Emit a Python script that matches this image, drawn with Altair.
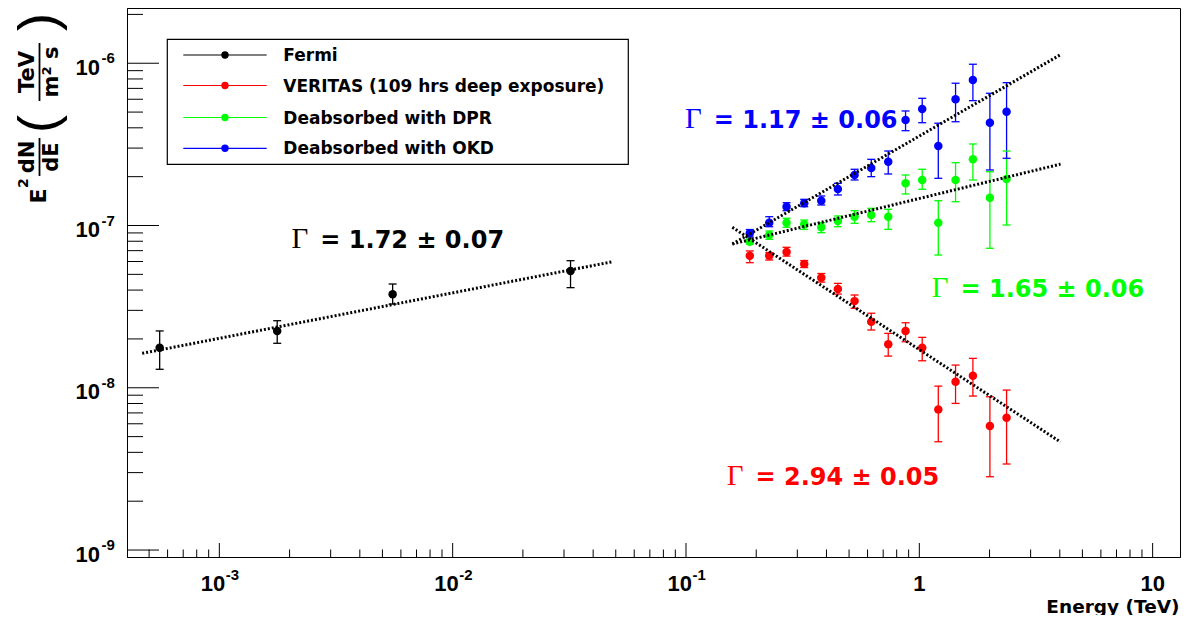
import altair as alt
import pandas as pd

# ---------------- data ----------------
series_names = ["Fermi", "VERITAS (109 hrs deep exposure)", "Deabsorbed with DPR", "Deabsorbed with OKD"]
series_colors = ["#000000", "#ff0000", "#00ff00", "#0000ff"]

fermi_E = [5.55e-4, 1.77e-3, 5.53e-3, 0.0320]
fermi_F = [1.765e-8, 2.24e-8, 3.77e-8, 5.24e-8]
fermi_hi = [2.24e-8, 2.59e-8, 4.36e-8, 6.07e-8]
fermi_lo = [1.30e-8, 1.88e-8, 3.28e-8, 4.14e-8]

vhe_E = [0.1877, 0.2274, 0.2698, 0.3212, 0.3800, 0.4476, 0.5279, 0.6223,
         0.7359, 0.873, 1.029, 1.206, 1.430, 1.697, 2.007, 2.366]

veritas_F = [6.52e-8, 6.52e-8, 6.86e-8, 5.79e-8, 4.77e-8, 4.06e-8, 3.42e-8, 2.55e-8,
             1.852e-8, 2.237e-8, 1.765e-8, 7.36e-9, 1.089e-8, 1.186e-8, 5.81e-9, 6.53e-9]
veritas_hi = [6.97e-8, 6.80e-8, 7.34e-8, 6.08e-8, 5.06e-8, 4.40e-8, 3.73e-8, 2.88e-8,
              2.164e-8, 2.516e-8, 2.045e-8, 1.024e-8, 1.380e-8, 1.518e-8, 8.80e-9, 9.68e-9]
veritas_lo = [5.90e-8, 6.13e-8, 6.48e-8, 5.51e-8, 4.48e-8, 3.78e-8, 3.09e-8, 2.27e-8,
              1.568e-8, 1.921e-8, 1.467e-8, 4.65e-9, 8.01e-9, 8.89e-9, 2.83e-9, 3.39e-9]

dpr_F = [7.95e-8, 8.74e-8, 1.041e-7, 1.017e-7, 9.75e-8, 1.066e-7, 1.133e-7, 1.161e-7,
         1.133e-7, 1.820e-7, 1.908e-7, 1.041e-7, 1.908e-7, 2.558e-7, 1.484e-7, 1.935e-7]
dpr_hi = [8.22e-8, 9.25e-8, 1.108e-7, 1.081e-7, 1.041e-7, 1.145e-7, 1.234e-7, 1.276e-7,
          1.259e-7, 2.048e-7, 2.221e-7, 1.422e-7, 2.439e-7, 3.18e-7, 2.146e-7, 2.878e-7]
dpr_lo = [7.69e-8, 8.22e-8, 9.75e-8, 9.47e-8, 9.03e-8, 9.83e-8, 1.032e-7, 1.055e-7,
          9.47e-8, 1.564e-7, 1.672e-7, 6.58e-8, 1.402e-7, 1.908e-7, 7.24e-8, 1.007e-7]

okd_F = [8.95e-8, 1.04e-7, 1.306e-7, 1.371e-7, 1.422e-7, 1.679e-7, 2.048e-7, 2.262e-7,
         2.473e-7, 4.47e-7, 5.23e-7, 3.09e-7, 6.0e-7, 7.89e-7, 4.30e-7, 5.03e-7]
okd_hi = [9.447e-8, 1.133e-7, 1.382e-7, 1.450e-7, 1.520e-7, 1.820e-7, 2.221e-7, 2.558e-7,
          2.878e-7, 5.08e-7, 6.08e-7, 4.27e-7, 7.53e-7, 9.86e-7, 6.53e-7, 7.59e-7]
okd_lo = [8.49e-8, 9.83e-8, 1.234e-7, 1.306e-7, 1.338e-7, 1.542e-7, 1.908e-7, 2.000e-7,
          2.078e-7, 3.84e-7, 4.30e-7, 1.954e-7, 4.36e-7, 5.88e-7, 2.199e-7, 2.596e-7]

# power-law fits (end points)
fit_names = ["Fermi fit", "OKD fit", "DPR fit", "VERITAS fit"]
fit_E0 = [4.67e-4, 0.158, 0.158, 0.158]
fit_E1 = [0.0484, 4.03, 4.03, 4.03]
fit_F0 = [1.63e-8, 7.69e-8, 7.69e-8, 9.75e-8]
fit_F1 = [5.98e-8, 1.13e-6, 2.39e-7, 4.63e-9]

# index annotations
label_series = [series_names[0], series_names[3], series_names[2], series_names[1]]
label_text = ["= 1.72 \u00b1 0.07", "= 1.17 \u00b1 0.06", "= 1.65 \u00b1 0.06", "= 2.94 \u00b1 0.05"]
label_E = [2.71e-3, 0.1316, 1.502, 0.1986]
label_F = [7.30e-8, 3.974e-7, 3.64e-8, 2.513e-9]

# axes
x_domain = [4.02e-4, 13.1]
y_domain = [9.06e-10, 2.19e-6]
x_major = [1e-3, 1e-2, 1e-1, 1, 10]
x_label_base = ["10", "10", "10", "1", "10"]
x_label_exp = ["-3", "-2", "-1", "", ""]
y_major = [1e-9, 1e-8, 1e-7, 1e-6]
y_label_base = ["10", "10", "10", "10"]
y_label_exp = ["-9", "-8", "-7", "-6"]
minor_mult = [2, 3, 4, 5, 6, 7, 8, 9]
x_minor = [m * 10.0 ** e for e in range(-4, 1) for m in minor_mult
           if x_domain[0] <= m * 10.0 ** e <= x_domain[1]]
y_minor = [m * 10.0 ** e for e in range(-10, -5) for m in minor_mult
           if y_domain[0] <= m * 10.0 ** e <= y_domain[1]]

# ---------------- tables ----------------
rows = []
for name, Es, Fs, los, his in [
    (series_names[0], fermi_E, fermi_F, fermi_lo, fermi_hi),
    (series_names[1], vhe_E, veritas_F, veritas_lo, veritas_hi),
    (series_names[2], vhe_E, dpr_F, dpr_lo, dpr_hi),
    (series_names[3], vhe_E, okd_F, okd_lo, okd_hi),
]:
    for E, F, lo, hi in zip(Es, Fs, los, his):
        rows.append({"series": name, "E": E, "F": F, "lo": lo, "hi": hi})
pts = pd.DataFrame(rows)

fit_rows = []
for n, e0, e1, f0, f1 in zip(fit_names, fit_E0, fit_E1, fit_F0, fit_F1):
    fit_rows.append({"fit": n, "E": e0, "F": f0})
    fit_rows.append({"fit": n, "E": e1, "F": f1})
fits = pd.DataFrame(fit_rows)

labels = pd.DataFrame({"series": label_series, "text": label_text, "E": label_E, "F": label_F})
xlab = pd.DataFrame({"v": x_major, "base": x_label_base, "exp": x_label_exp})
ylab = pd.DataFrame({"v": y_major, "base": y_label_base, "exp": y_label_exp})

# ---------------- layout ----------------
W, H = 1053, 549
OX, OY = 127, 8  # page position of plot origin
SANS = "DejaVu Sans"
LAB = "Liberation Sans"

xscale = alt.Scale(type="log", domain=x_domain, nice=False)
yscale = alt.Scale(type="log", domain=y_domain, nice=False)

xaxis = alt.Axis(values=x_major, labels=False, title="Energy (TeV)",
                 titleX=W - 1, titleY=55, titleAlign="right", titleAnchor="end",
                 titleBaseline="alphabetic", titleFont=SANS, titleFontSize=18.5,
                 titleFontWeight="bold", titleColor="black",
                 ticks=False, grid=False, domainColor="black")
yaxis = alt.Axis(values=y_major, labels=False, title=None,
                 ticks=False, grid=False, domainColor="black")


def X(f):
    return alt.X(f + ":Q", scale=xscale, axis=xaxis)


def Y(f):
    return alt.Y(f + ":Q", scale=yscale, axis=yaxis)


color = alt.Color("series:N", scale=alt.Scale(domain=series_names, range=series_colors), legend=None)
dummy = alt.Data(values=[{"a": 1}])

layers = []

# inward ticks
layers.append(alt.Chart(pd.DataFrame({"v": x_major})).mark_rule(color="black", strokeWidth=1)
              .encode(x=X("v"), y=alt.value(H), y2=alt.value(H - 14)))
layers.append(alt.Chart(pd.DataFrame({"v": x_minor})).mark_rule(color="black", strokeWidth=1)
              .encode(x=X("v"), y=alt.value(H), y2=alt.value(H - 7.5)))
layers.append(alt.Chart(pd.DataFrame({"v": y_major})).mark_rule(color="black", strokeWidth=1)
              .encode(y=Y("v"), x=alt.value(0), x2=alt.value(32)))
layers.append(alt.Chart(pd.DataFrame({"v": y_minor})).mark_rule(color="black", strokeWidth=1)
              .encode(y=Y("v"), x=alt.value(0), x2=alt.value(16)))

# tick labels (base + raised exponent)
xl = alt.Chart(xlab)
layers.append(xl.transform_filter("datum.exp != ''")
              .mark_text(align="right", baseline="alphabetic", font=LAB, fontWeight="bold",
                         fontSize=22, dx=6, color="black")
              .encode(x=X("v"), y=alt.value(H + 34), text="base:N"))
layers.append(xl.transform_filter("datum.exp != ''")
              .mark_text(align="left", baseline="alphabetic", font=LAB, fontWeight="bold",
                         fontSize=15, dx=6.5, color="black")
              .encode(x=X("v"), y=alt.value(H + 22.5), text="exp:N"))
layers.append(xl.transform_filter("datum.exp == ''")
              .mark_text(align="center", baseline="alphabetic", font=LAB, fontWeight="bold",
                         fontSize=22, color="black")
              .encode(x=X("v"), y=alt.value(H + 34), text="base:N"))
yl = alt.Chart(ylab)
layers.append(yl.mark_text(align="right", baseline="alphabetic", font=LAB, fontWeight="bold",
                           fontSize=22, dy=11.5, color="black")
              .encode(y=Y("v"), x=alt.value(100 - OX), text="base:N"))
layers.append(yl.mark_text(align="left", baseline="alphabetic", font=LAB, fontWeight="bold",
                           fontSize=15, dy=0, color="black")
              .encode(y=Y("v"), x=alt.value(101.5 - OX), text="exp:N"))

# error bars + caps
base = alt.Chart(pts)
layers.append(base.mark_rule(strokeWidth=1.3).encode(x=X("E"), y=Y("lo"), y2="hi:Q", color=color))
cap = "M-1,0L1,0"
layers.append(base.mark_point(shape=cap, size=64, filled=False, strokeWidth=1.3, opacity=1)
              .encode(x=X("E"), y=Y("lo"), color=color))
layers.append(base.mark_point(shape=cap, size=64, filled=False, strokeWidth=1.3, opacity=1)
              .encode(x=X("E"), y=Y("hi"), color=color))
layers.append(base.mark_point(shape="circle", size=72, filled=True, opacity=1)
              .encode(x=X("E"), y=Y("F"), color=color))

# fits
layers.append(alt.Chart(fits).mark_line(color="black", strokeWidth=3, strokeDash=[2, 2])
              .encode(x=X("E"), y=Y("F"), detail="fit:N"))

# index labels
lab = alt.Chart(labels)
layers.append(lab.mark_text(align="left", baseline="alphabetic", font=SANS, fontSize=24, fontWeight="bold")
              .encode(x=X("E"), y=Y("F"), text="text:N", color=color))
layers.append(lab.mark_text(align="right", baseline="alphabetic", font="Liberation Serif", fontSize=29,
                            dx=-12, text="\u0393")
              .encode(x=X("E"), y=Y("F"), color=color))

# legend
LX0, LX1, LY0, LY1 = 167.3 - OX, 628.3 - OX, 39.3 - OY, 164.3 - OY
layers.append(alt.Chart(dummy).mark_rect(fill="white", stroke="black", strokeWidth=1.2)
              .encode(x=alt.value(LX0), x2=alt.value(LX1), y=alt.value(LY0), y2=alt.value(LY1)))
row_y = [55 - OY, 85.5 - OY, 117.5 - OY, 148.3 - OY]
for name, col, ry in zip(series_names, series_colors, row_y):
    layers.append(alt.Chart(dummy).mark_rule(color=col, strokeWidth=1.2)
                  .encode(x=alt.value(183.3 - OX), x2=alt.value(266.7 - OX), y=alt.value(ry)))
    layers.append(alt.Chart(dummy).mark_point(shape="circle", size=55, filled=True, opacity=1, color=col)
                  .encode(x=alt.value(225 - OX), y=alt.value(ry)))
    layers.append(alt.Chart(dummy).mark_text(text=name, align="left", baseline="middle", font=SANS,
                                             fontSize=17, fontWeight="bold", color="black")
                  .encode(x=alt.value(283.3 - OX), y=alt.value(ry + 1)))


# y-axis title: E^2 dN/dE (TeV / m^2 s), rotated
def ttext(txt, px, py, size, weight="bold", font=SANS):
    return (alt.Chart(dummy).mark_text(text=txt, angle=270, align="center", baseline="middle",
                                       font=font, fontSize=size, fontWeight=weight, color="black")
            .encode(x=alt.value(px - OX), y=alt.value(py - OY)))


def vbar(px, py0, py1):
    return (alt.Chart(dummy).mark_rule(color="black", strokeWidth=1.8)
            .encode(x=alt.value(px - OX), y=alt.value(py0 - OY), y2=alt.value(py1 - OY)))


layers += [
    ttext("E", 39, 196, 22),
    ttext("2", 24, 183, 14),
    ttext("dN", 28, 157, 21),
    vbar(39.5, 138, 176),
    ttext("dE", 52, 157, 21),
    ttext("(", 40, 124, 54, weight="normal", font=LAB),
    ttext("TeV", 28, 72, 21),
    vbar(39.5, 43, 101),
    ttext("m\u00b2 s", 52, 72, 21),
    ttext(")", 40, 22, 54, weight="normal", font=LAB),
]

chart = (alt.layer(*layers)
         .properties(width=W, height=H, background="white",
                     padding={"left": OX - 8, "top": OY - 8, "right": 2, "bottom": 58},
                     autosize=alt.AutoSizeParams(type="none"))
         .configure_view(stroke="black", strokeWidth=1))

chart.save("out.html", embed_options={"renderer": "svg", "actions": False})
